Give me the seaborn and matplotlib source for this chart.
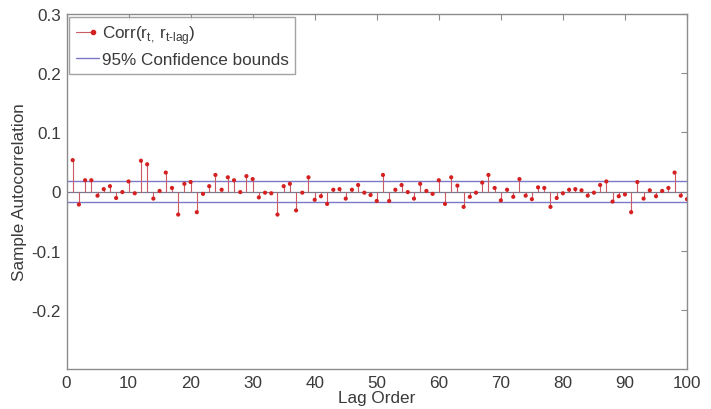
import numpy as np
import pandas as pd
import matplotlib
matplotlib.use("Agg")
import matplotlib.pyplot as plt
from matplotlib.lines import Line2D
from matplotlib.legend_handler import HandlerLine2D
import seaborn as sns

# Sample autocorrelation of returns for lags 1..100
lags = list(range(1, 101))
acf = [
    0.053, -0.022, 0.019, 0.019, -0.007, 0.004, 0.009, -0.011, -0.001, 0.017,
    -0.003, 0.052, 0.046, -0.012, 0.001, 0.032, 0.006, -0.039, 0.013, 0.016,
    -0.035, -0.004, 0.009, 0.028, 0.003, 0.024, 0.019, -0.001, 0.026, 0.021,
    -0.010, -0.002, -0.003, -0.039, 0.009, 0.013, -0.032, -0.002, 0.024, -0.014,
    -0.008, -0.021, 0.003, 0.004, -0.012, 0.003, 0.011, -0.002, -0.006, -0.016,
    0.028, -0.016, 0.003, 0.011, -0.001, -0.012, 0.013, 0.001, -0.004, 0.019,
    -0.021, 0.024, 0.010, -0.026, -0.009, -0.002, 0.015, 0.028, 0.006, -0.015,
    0.003, -0.009, 0.021, -0.007, -0.013, 0.007, 0.006, -0.026, -0.011, -0.003,
    0.003, 0.004, 0.002, -0.007, -0.002, 0.011, 0.017, -0.017, -0.008, -0.005,
    -0.035, 0.016, -0.012, 0.002, -0.008, 0.001, 0.006, 0.032, -0.007, -0.013,
]
conf_bound = 0.0183
bound_x = [0, 100]

xticks = list(range(0, 101, 10))
yticks = [-0.2, -0.1, 0, 0.1, 0.2, 0.3]
ytick_labels = ["-0.2", "-0.1", "0", "0.1", "0.2", "0.3"]

sns.set_style("white")
plt.rcParams["font.family"] = ["Liberation Sans", "DejaVu Sans"]
plt.rcParams["mathtext.fontset"] = "custom"
plt.rcParams["mathtext.rm"] = "Liberation Sans"

stem_red = "#d42020"
stem_line = "#cc5a64"
bound_blue = "#7a7ac8"
frame_gray = "#8c8c8c"
text_gray = "#3a3a3a"
fs = 12.3


class StemLegendHandler(HandlerLine2D):
    """Short stem line with the marker at its right end."""

    def create_artists(self, legend, orig_handle, xdescent, ydescent,
                       width, height, fontsize, trans):
        artists = super().create_artists(legend, orig_handle, xdescent,
                                         ydescent, width, height, fontsize,
                                         trans)
        line = artists[0]
        x = np.asarray(line.get_xdata(), dtype=float)
        x = np.linspace(x[0], x[0] + 0.72 * (x[-1] - x[0]), len(x))
        line.set_xdata(x)
        line.set_markevery([len(x) - 1])
        return artists


df = pd.DataFrame({"lag": lags, "acf": acf})
bounds = pd.DataFrame({"x": bound_x * 2,
                       "y": [conf_bound, conf_bound, -conf_bound, -conf_bound],
                       "side": ["upper", "upper", "lower", "lower"]})

fig = plt.figure(figsize=(7.11, 4.10), dpi=100)
ax = fig.add_axes([66.5 / 711, 1 - 370 / 410, (687 - 66.5) / 711, (370 - 15) / 410])

# baseline at zero
ax.axhline(0, color="#7a7a90", lw=0.9, zorder=1)

# confidence bounds
sns.lineplot(data=bounds, x="x", y="y", units="side", estimator=None,
             color=bound_blue, lw=1.0, ax=ax, zorder=2, legend=False)

# stems
ax.vlines(df["lag"], 0, df["acf"], color=stem_line, lw=0.8, zorder=3)
sns.scatterplot(data=df, x="lag", y="acf", color=stem_red, s=9,
                edgecolor="none", ax=ax, zorder=4, legend=False)

ax.set_xlim(0, 100)
ax.set_ylim(-0.3, 0.3)
ax.set_xticks(xticks)
ax.set_xticklabels([str(t) for t in xticks])
ax.set_yticks(yticks)
ax.set_yticklabels(ytick_labels)

ax.tick_params(direction="in", length=4, width=0.8, color=frame_gray,
               labelsize=fs, labelcolor=text_gray, top=True, right=True,
               pad=4)
for sp in ax.spines.values():
    sp.set_visible(True)
    sp.set_color(frame_gray)
    sp.set_linewidth(1.0)

ax.set_xlabel("Lag Order", fontsize=fs, color=text_gray, labelpad=0)
ax.set_ylabel("Sample Autocorrelation", fontsize=fs, color=text_gray, labelpad=3)

stem_handle = Line2D([0], [0], color=stem_line, lw=0.8, marker="o",
                     markersize=3, markerfacecolor=stem_red,
                     markeredgecolor=stem_red)
bound_handle = Line2D([0], [0], color=bound_blue, lw=1.0)
leg = ax.legend([stem_handle, bound_handle],
                [r"Corr(r$_\mathregular{t,}\,$r$_\mathregular{t\text{-}lag}$)",
                 "95% Confidence bounds"],
                handler_map={stem_handle: StemLegendHandler(numpoints=1)},
                loc="upper left", fontsize=fs, frameon=True,
                fancybox=False, edgecolor=frame_gray, handlelength=1.35,
                handletextpad=0.15, borderaxespad=0.15, borderpad=0.4,
                labelspacing=0.35)
leg.get_frame().set_linewidth(1.0)
for t in leg.get_texts():
    t.set_color(text_gray)

fig.savefig("out.png", dpi=100, facecolor="white")
